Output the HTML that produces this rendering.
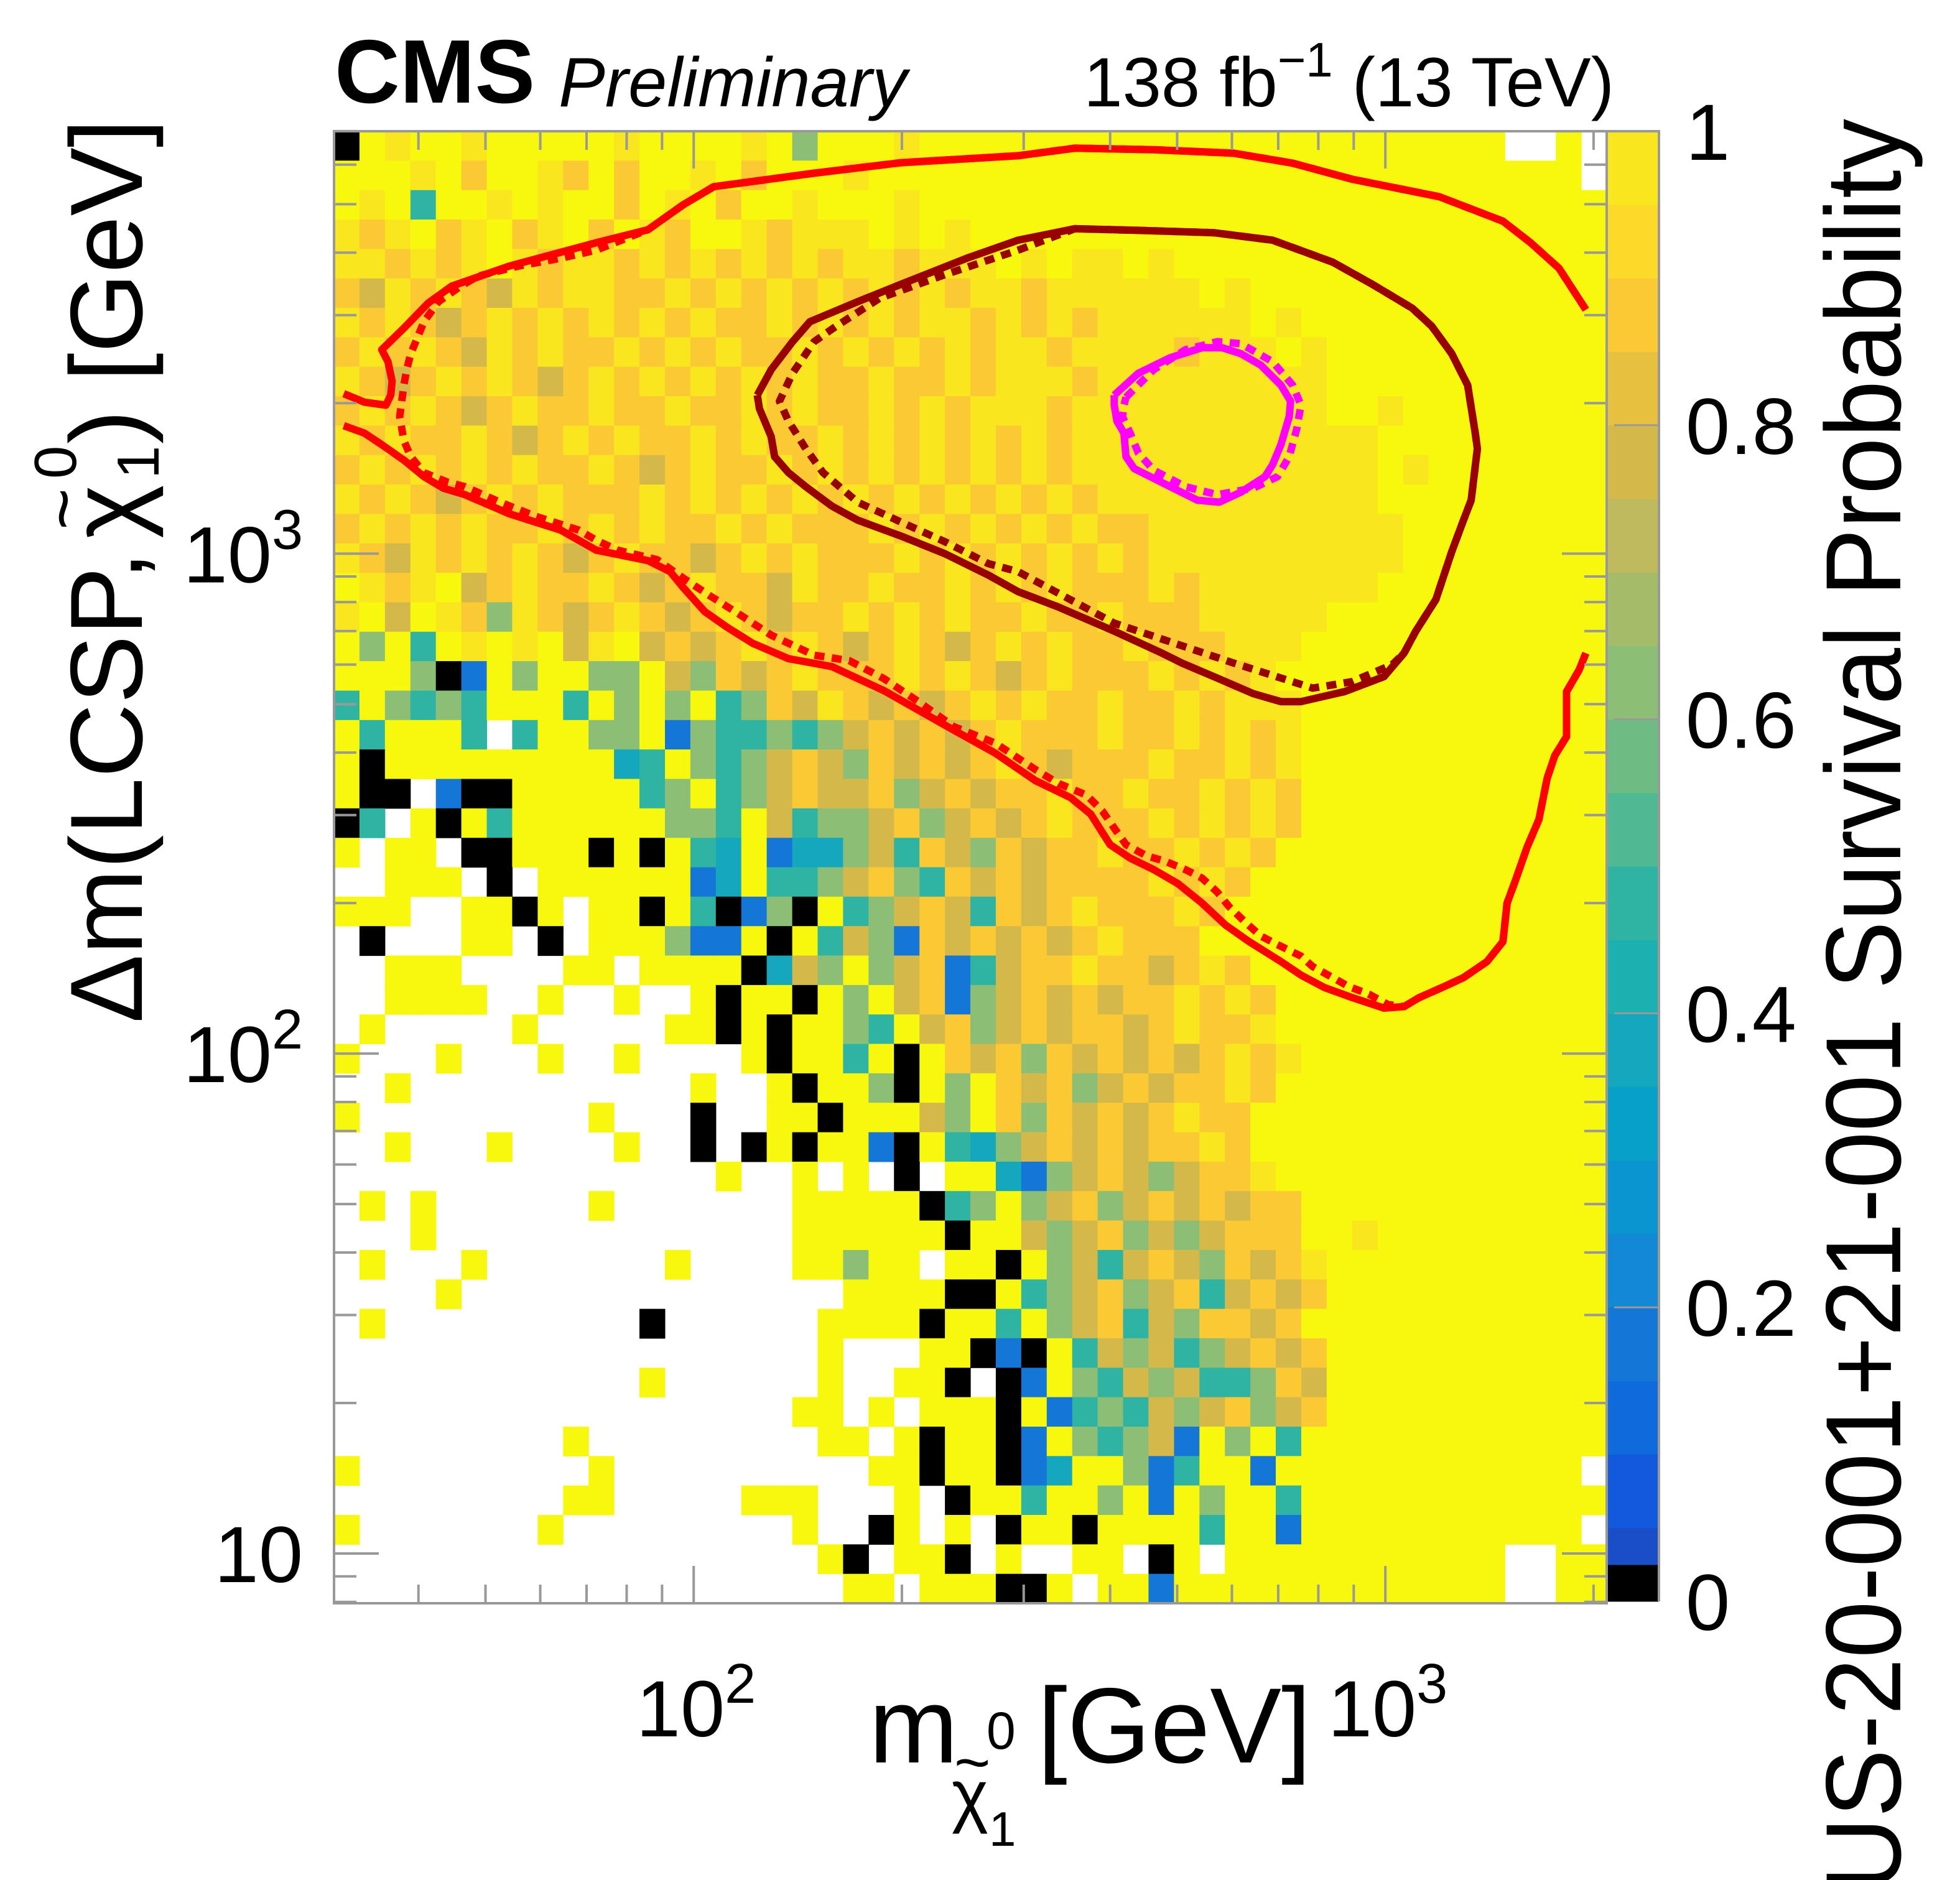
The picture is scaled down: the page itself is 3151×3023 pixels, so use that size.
<!DOCTYPE html>
<html><head><meta charset="utf-8"><title>CMS survival probability</title>
<style>html,body{margin:0;padding:0;background:#fff;}svg{display:block;}text{font-family:"Liberation Sans",sans-serif;}</style>
</head><body>
<svg id="chart" xmlns="http://www.w3.org/2000/svg" width="3151" height="3023" viewBox="0 0 3151 3023">
<g id="heat"></g>
<g id="contours"></g>
<g id="axes"></g>
<g id="cbar"></g>
<text x="538" y="165" font-size="145" font-weight="bold">CMS</text>
<text x="898" y="171" font-size="112" font-style="italic">Preliminary</text>
<text x="2595" y="171" font-size="112" text-anchor="end">138 fb<tspan dy="-48" font-size="78">−1</tspan><tspan dy="48"> (13 TeV)</tspan></text>
<g>
<text x="1397" y="2834" font-size="172">m</text>
<text x="1530" y="2925" font-size="112">χ</text>
<text x="1534" y="2868" font-size="100">~</text>
<text x="1586" y="2812" font-size="84">0</text>
<text x="1590" y="2968" font-size="78">1</text>
<text x="1668" y="2834" font-size="172">[GeV]</text>
</g>
<g transform="translate(228,1645) rotate(-90)">
<text x="0" y="0" font-size="165">Δm(LCSP,</text>
<text x="779" y="0" font-size="165">χ</text>
<text x="793" y="-88" font-size="115">~</text>
<text x="875" y="-106" font-size="96">0</text>
<text x="875" y="27" font-size="96">1</text>
<text x="931" y="0" font-size="165">) [GeV]</text>
</g>
<text transform="translate(3055,191) rotate(-90)" font-size="172" text-anchor="end" textLength="2960" lengthAdjust="spacingAndGlyphs">SUS-20-001+21-001 Survival Probability</text>
</svg>
<script>
// ---- axis ranges (log10 units) ----
const xLogMin = 1.480, xLogMax = 3.320;
const yLogMin = 0.9005, yLogMax = 3.845;
// ---- heatmap: 50 mass columns x 50 delta-m rows (top to bottom), codes map to probability ----
const codeValues = {'Y':1.0,'o':0.96,'O':0.89,'d':0.78,'g':0.62,'t':0.48,'c':0.36,'b':0.17,'k':0.0};
const heatRows = [
"kYoYYoYYYY"+"YoYYYYoYgY"+"YYoYYYYYYY"+"YYYYYYYYYY"+"YYYYYY..Y.",
"YYYoYOYYoO"+"YOYYoYOYYY"+"oYYYYYYYYY"+"YYYYYYYYYY"+"YYYYYYYYY.",
"YoYtYYoYoY"+"YOYoYOYYoY"+"YYoYYYYYYY"+"YYYYYYYYYY"+"YYYYYYYYYY",
"oOoYOoYOoY"+"OYoOYYoOoo"+"oYoYoYYYYY"+"YYYYYYYYYY"+"YYYYYYYYYY",
"ooOoOoYoOo"+"oOoOoOoOoO"+"ooOoooYoYo"+"oYoYYYYYYY"+"YYYYYYYYYY",
"OdoOoOdoOo"+"oOOoOoOoOo"+"OoOoOooOoo"+"ooooYoYYYY"+"YYYYYYYYYY",
"oOoOdOoOoO"+"oOoOoOOoOo"+"OoOooOoOoO"+"ooooooYoYY"+"YYYYYYYYYY",
"OoOoOdoOoO"+"OoOoOoOOoO"+"oOoOoOooOo"+"oooOoooYoY"+"YYYYYYYYYY",
"oOdOoOoOdO"+"oOoOoOoOoO"+"OoOOoOoooO"+"oooooooooY"+"YYYYYYYYYY",
"OoOoOdOoOO"+"oOOoOOoOoO"+"OoOoOoooOo"+"oooooooooY"+"YoYYYYYYYY",
"oOoOOoOdOo"+"OoOOoOoOOo"+"OoOoOoOoOo"+"oooooooooo"+"oYYYYYYYYY",
"OoOoOoOoOO"+"oOdOoOOoOo"+"OoOoOoOoOo"+"oooooooooo"+"oYoYYYYYYY",
"oOoOdOoOoO"+"OOoOoOoOoO"+"oOoOoOoOoO"+"oooooooooo"+"oYYYYYYYYY",
"OoOoOoOOoO"+"oOoOOoOoOO"+"OoOoOoOoOo"+"OOoooooooo"+"ooYYYYYYYY",
"oOdoOoOoOd"+"OoOOdOoOoO"+"OOoOoOoOoO"+"oOoooooooo"+"ooYYYYYYYY",
"YoOoYdOoOO"+"oOdOoOOdoO"+"OoOOoOoOoO"+"OOoOoooooo"+"oYYYYYYYYY",
"oYdYoOgoOd"+"OoOdOoOdOO"+"oOoOoOOoOO"+"oOOOoooooY"+"YYYYYYYYYY",
"YgYtYoYoYd"+"oYdOdOoOoO"+"dOoOdOoOoO"+"OoOOOoooYY"+"YYYYYYYYYY",
"YYYgkbYgYY"+"ggYdgOdOoO"+"OOoOoOdOoO"+"OOoOoOoYYY"+"YYYYYYYYYY",
"tYgtgtYYYt"+"YgYgYtgOdo"+"OdOdOoOoOO"+"oOOoOoooYY"+"YYYYYYYYYY",
"YtYYYt.tYY"+"ggYbgttgtg"+"dOdOdOoOOO"+"oOOoOoOoYY"+"YYYYYYYYYY",
"YkYYYYYYYY"+"YctYgtgdOd"+"gOdOdOoOdO"+"OOoOOoOoYY"+"YYYYYYYYYY",
"Ykk.bkkYYY"+"YYtgYtgdOd"+"dOgdOdOOoO"+"OoOOoOoOYY"+"YYYYYYYYYY",
"kt.YkYtYYY"+"YYYggtYdtg"+"gdOgdOdOoO"+"OOoOoOoOYY"+"YYYYYYYYYY",
"Y.YY.kkYYY"+"kYkYtcYbcc"+"gdtOdgOdOO"+"oOOoOoOYYY"+"YYYYYYYYYY",
"..YYY.k.YY"+"YYYYbcYttg"+"dOgtOdOdOO"+"OOoOoOYYYY"+"YYYYYYYYYY",
"YYY..YYkY."+"YYkYtkbgkY"+"tgdOdtOdOo"+"OOOoOYYYYY"+"YYYYYYYYYY",
".k...YY.k."+"YYYgbbYkYt"+"dgbOdOdOdO"+"oOOOYYYYYY"+"YYYYYYYYYY",
"..YYY....Y"+"Y.YYYYkcdg"+"YgdObtdOOo"+"OOdOoOYYYY"+"YYYYYYYYYY",
"..YYYY..Y."+".Y..YkYYkY"+"gYdObgdOdO"+"dOOoOoOYYY"+"YYYYYYYYYY",
".Y.....Y.."+"...YYkYkYY"+"gtYdOgdOdO"+"OdOoOOoYYY"+"YYYYYYYYYY",
"Y...Y...Y."+".Y....YkYY"+"tYkYOdOgOd"+"OdOdOoOoYY"+"YYYYYYYYYY",
"..Y......."+"....Y..YkY"+"YgkYgYOdOg"+"dOdOOoOYYY"+"YYYYYYYYYY",
"Y........."+"Y...k..YYk"+"YYYdgYOgOd"+"OdOoOOYYYY"+"YYYYYYYYYY",
"..Y...Y..."+".Y..k.kYkY"+"YbkYtcgdOd"+"OdOOoOYYYY"+"YYYYYYYYYY",
".........."+".....Y..Y."+"Y.k.YYcbgd"+"OdgdOOoYYY"+"YYYYYYYYYY",
".Y.Y......"+"Y.......YY"+"YYYktgYgdO"+"gdOdOdOOYY"+"YYYYYYYYYY",
"...Y......"+"........YY"+"YYYYkYYdgd"+"OgdgdOOOYY"+"oYYYYYYYYY",
".Y...Y...."+"...Y....YY"+"gYY.YYkYgd"+"tdOdgOdOoY"+"YYYYYYYYYY",
"....Y....."+".........."+"YYYYkkYtgd"+"OgdOtdOdOY"+"YYYYYYYYYY",
".Y........"+"..k......Y"+"YYYkYYtYgd"+"OtdgOOdOYY"+"YYYYYYYYYY",
".........."+".........Y"+"...YYkbkYt"+"dgdtgdOdOY"+"YYYYYYYYYY",
".........."+"..Y......Y"+"..YYk.kbYg"+"tdgdttgOdY"+"YYYYYYYYYY",
".........."+"........YY"+".Y.YYYkYbt"+"gtdgdOgdOY"+"YYYYYYYYYY",
".........Y"+".........Y"+"Y.YkYYkbYg"+"tgdbYgYtYY"+"YYYYYYYYYY",
"Y........."+"Y........."+".YYkYYkbcY"+"YgbtYYbYYY"+"YYYYYYYYY.",
".........Y"+"Y.....YYY."+"..Y.kYYtYY"+"gYbYgYYtYY"+"YYYYYYYYYY",
"Y.......Y."+"........Y."+".kY.Y.kYYk"+"YYYYtYYbYY"+"YYYYYYYYY.",
".........."+".........Y"+"k.YYk.Y..Y"+"Y.kY.YYYYY"+"YYYYYY..YY",
".........."+".........."+"YY.YYYkkY."+"YYbYYYYYYY"+"YYYYYY..YY"
];
// ---- contours: [log10 m(chi), log10 dm] ----
const obsOuterUpper = [[1.494,3.320],[1.524,3.303],[1.555,3.297],[1.562,3.317],[1.564,3.345],[1.558,3.384],[1.549,3.408],[1.581,3.451],[1.616,3.501],[1.650,3.535],[1.733,3.575],[1.859,3.622],[1.934,3.648],[1.985,3.698],[2.029,3.734],[2.174,3.761],[2.300,3.782],[2.469,3.796],[2.551,3.811],[2.665,3.808],[2.781,3.801],[2.866,3.781],[2.952,3.749],[3.078,3.714],[3.170,3.665],[3.210,3.622],[3.251,3.571],[3.290,3.488]];
const obsOuterLower = [[1.494,3.256],[1.524,3.241],[1.549,3.218],[1.581,3.187],[1.610,3.154],[1.638,3.131],[1.669,3.118],[1.733,3.080],[1.808,3.047],[1.859,3.007],[1.934,2.986],[1.966,2.964],[1.985,2.932],[2.016,2.884],[2.048,2.853],[2.085,2.821],[2.137,2.790],[2.200,2.774],[2.275,2.726],[2.376,2.647],[2.436,2.601],[2.494,2.546],[2.545,2.512],[2.574,2.479],[2.602,2.418],[2.631,2.391],[2.665,2.368],[2.700,2.340],[2.735,2.301],[2.769,2.257],[2.803,2.224],[2.849,2.184],[2.878,2.157],[2.912,2.132],[2.952,2.112],[2.998,2.091],[3.027,2.094],[3.049,2.112],[3.085,2.134],[3.113,2.152],[3.147,2.184],[3.170,2.224],[3.176,2.301],[3.188,2.346],[3.205,2.413],[3.222,2.468],[3.234,2.551],[3.245,2.596],[3.262,2.634],[3.262,2.724],[3.280,2.767],[3.290,2.801]];
const expOuter = [[3.290,3.488],[3.251,3.571],[3.210,3.622],[3.170,3.665],[3.078,3.714],[2.952,3.749],[2.866,3.781],[2.781,3.801],[2.665,3.808],[2.551,3.811],[2.469,3.796],[2.300,3.782],[2.174,3.761],[2.029,3.734],[1.985,3.698],[1.934,3.648],[1.859,3.607],[1.808,3.591],[1.746,3.575],[1.688,3.555],[1.663,3.535],[1.631,3.504],[1.610,3.464],[1.591,3.400],[1.585,3.368],[1.581,3.337],[1.575,3.274],[1.581,3.226],[1.591,3.194],[1.610,3.162],[1.644,3.143],[1.669,3.134],[1.720,3.103],[1.771,3.075],[1.834,3.047],[1.859,3.027],[1.890,3.007],[1.947,2.988],[1.985,2.951],[2.022,2.917],[2.060,2.884],[2.112,2.837],[2.174,2.797],[2.225,2.786],[2.275,2.750],[2.326,2.703],[2.376,2.654],[2.436,2.621],[2.494,2.568],[2.528,2.540],[2.568,2.517],[2.591,2.485],[2.608,2.451],[2.625,2.418],[2.654,2.396],[2.683,2.384],[2.711,2.368],[2.735,2.351],[2.757,2.323],[2.774,2.294],[2.798,2.262],[2.820,2.235],[2.844,2.218],[2.878,2.195],[2.895,2.174],[2.924,2.152],[2.947,2.134],[2.976,2.119],[3.004,2.098],[3.027,2.094],[3.049,2.112],[3.085,2.134],[3.113,2.152],[3.147,2.184],[3.170,2.224],[3.176,2.301],[3.188,2.346],[3.205,2.413],[3.222,2.468],[3.234,2.551],[3.245,2.596],[3.262,2.634],[3.262,2.724],[3.280,2.767],[3.290,2.801]];
const obsMid = [[2.092,3.317],[2.112,3.368],[2.143,3.424],[2.168,3.464],[2.237,3.504],[2.300,3.539],[2.395,3.591],[2.469,3.627],[2.551,3.650],[2.637,3.647],[2.752,3.642],[2.837,3.627],[2.924,3.583],[2.981,3.539],[3.039,3.491],[3.067,3.455],[3.096,3.400],[3.119,3.337],[3.130,3.241],[3.133,3.210],[3.124,3.107],[3.113,3.067],[3.096,3.004],[3.073,2.908],[3.044,2.845],[3.027,2.801],[2.998,2.754],[2.941,2.724],[2.878,2.704],[2.849,2.704],[2.809,2.720],[2.757,2.751],[2.706,2.781],[2.677,2.801],[2.608,2.845],[2.526,2.894],[2.469,2.924],[2.426,2.957],[2.363,3.000],[2.300,3.035],[2.237,3.067],[2.200,3.095],[2.162,3.134],[2.137,3.162],[2.117,3.194],[2.112,3.234],[2.095,3.290],[2.092,3.317]];
const expMid = [[2.469,3.607],[2.551,3.650],[2.637,3.647],[2.752,3.642],[2.837,3.627],[2.924,3.583],[2.981,3.539],[3.039,3.491],[3.067,3.455],[3.096,3.400],[3.119,3.337],[3.130,3.241],[3.133,3.210],[3.124,3.107],[3.113,3.067],[3.096,3.004],[3.073,2.908],[3.044,2.845],[3.027,2.801],[3.010,2.778],[2.952,2.744],[2.895,2.731],[2.781,2.781],[2.608,2.861],[2.469,2.964],[2.426,2.980],[2.363,3.024],[2.300,3.063],[2.237,3.103],[2.187,3.162],[2.162,3.210],[2.137,3.265],[2.124,3.305],[2.143,3.361],[2.174,3.424],[2.206,3.455],[2.269,3.511],[2.363,3.558],[2.469,3.607]];
const obsInner = [[2.608,3.317],[2.643,3.361],[2.689,3.392],[2.735,3.412],[2.764,3.412],[2.791,3.400],[2.820,3.377],[2.849,3.337],[2.863,3.305],[2.861,3.274],[2.849,3.218],[2.837,3.178],[2.826,3.154],[2.791,3.123],[2.760,3.103],[2.728,3.107],[2.689,3.134],[2.637,3.170],[2.625,3.194],[2.622,3.241],[2.612,3.265],[2.608,3.297],[2.608,3.317]];
const expInner = [[2.625,3.313],[2.665,3.368],[2.711,3.408],[2.757,3.424],[2.791,3.420],[2.837,3.384],[2.866,3.337],[2.878,3.297],[2.872,3.250],[2.861,3.194],[2.844,3.154],[2.809,3.131],[2.757,3.118],[2.711,3.134],[2.665,3.167],[2.643,3.201],[2.631,3.241],[2.620,3.274],[2.622,3.297],[2.625,3.313]];
// ---- ticks ----
const xTickValues = [40,50,60,70,80,90,100,200,300,400,500,600,700,800,900,1000,2000];
const xMajorValues = [100,1000];
const yTickValues = [8,9,10,20,30,40,50,60,70,80,90,100,200,300,400,500,600,700,800,900,1000,2000,3000,4000,5000,6000,7000];
const yMajorValues = [10,100,1000];
const yTickLabels = [["10",""],["10","2"],["10","3"]];
const xTickLabels = [["10","2"],["10","3"]];
const zTickValues = [0,0.2,0.4,0.6,0.8,1];
const zTickLabels = ["0","0.2","0.4","0.6","0.8","1"];
const paletteColors = ["#000000","#1259DD","#0F6ADC","#1477D8","#1388D5","#0B95D0","#06A0C8","#14A7BD","#1DB0B0","#2FB4A3","#4FB993","#6EBC83","#8DBE76","#A4BC6A","#C0BA5E","#D4B94A","#E8C03F","#FAC934","#FDD928","#FAE61E"];

const NS = "http://www.w3.org/2000/svg";
const PL = 537, PR = 2583, PT = 211, PB = 2578;
function xs(lg){ return PL + (lg - xLogMin) / (xLogMax - xLogMin) * (PR - PL); }
function ys(lg){ return PB - (lg - yLogMin) / (yLogMax - yLogMin) * (PB - PT); }
const ZT = 211, ZB = 2575;
function zs(v){ return ZB - v * (ZB - ZT); }
function colorOf(v){
  if (v >= 0.999) return "#F8F80E";
  if (v < 0.025) return "#000000";
  if (v < 0.05) return "#1A4EC8";
  return paletteColors[Math.min(19, Math.floor(v * 20))];
}
function mk(tag, attrs, parent){ const e = document.createElementNS(NS, tag); for (const k in attrs) e.setAttribute(k, attrs[k]); parent.appendChild(e); return e; }

// heatmap
const heat = document.getElementById('heat');
const nCols = 50, nRows = heatRows.length;
for (let r = 0; r < nRows; r++) {
  const row = heatRows[r];
  const yTop = yLogMax - r * (yLogMax - yLogMin) / nRows, yBot = yLogMax - (r + 1) * (yLogMax - yLogMin) / nRows;
  for (let c = 0; c < nCols; c++) {
    const ch = c < row.length ? row[c] : 'Y';
    if (!(ch in codeValues)) continue;
    const x0 = xLogMin + c * (xLogMax - xLogMin) / nCols, x1 = xLogMin + (c + 1) * (xLogMax - xLogMin) / nCols;
    const rc = mk('rect', {x: xs(x0).toFixed(1), y: ys(yTop).toFixed(1), width: (xs(x1) - xs(x0) + 0.6).toFixed(1), height: (ys(yBot) - ys(yTop) + 0.6).toFixed(1), fill: colorOf(codeValues[ch])}, heat);
    
    
  }
}

// contours
const cg = document.getElementById('contours');
function pathOf(pts){ return pts.map((p, i) => (i ? 'L' : 'M') + xs(p[0]).toFixed(1) + ' ' + ys(p[1]).toFixed(1)).join(' '); }
function line(pts, color, dash, name){
  const p = mk('path', {d: pathOf(pts), fill: 'none', stroke: color, 'stroke-width': 12, 'stroke-linejoin': 'round'}, cg);
  if (dash) p.setAttribute('stroke-dasharray', '16 12');
  
  
}
line(expOuter, '#FF0000', true, 'expected-outer-contour');
line(obsOuterUpper, '#FF0000', false, 'observed-outer-contour-upper');
line(obsOuterLower, '#FF0000', false, 'observed-outer-contour-lower');
line(expMid, '#990000', true, 'expected-middle-contour');
line(obsMid, '#990000', false, 'observed-middle-contour');
line(expInner, '#FF00FF', true, 'expected-inner-contour');
line(obsInner, '#FF00FF', false, 'observed-inner-contour');

// axes
const ag = document.getElementById('axes');
const fr = mk('rect', {x: PL, y: PT, width: PR - PL, height: PB - PT, fill: 'none', stroke: '#999', 'stroke-width': 4}, ag);


xTickValues.forEach(v => {
  const X = xs(Math.log10(v)); const maj = xMajorValues.includes(v); const L = maj ? 60 : 30;
  const t1 = mk('line', {x1: X, x2: X, y1: PB, y2: PB - L, stroke: '#999', 'stroke-width': 4}, ag);
  
  
  const t2 = mk('line', {x1: X, x2: X, y1: PT, y2: PT + L, stroke: '#999', 'stroke-width': 4}, ag);
  
  
});
yTickValues.forEach(v => {
  const Y = ys(Math.log10(v)); const maj = yMajorValues.includes(v); const L = maj ? 72 : 36;
  const t1 = mk('line', {x1: PL, x2: PL + L, y1: Y, y2: Y, stroke: '#999', 'stroke-width': 4}, ag);
  
  
  const t2 = mk('line', {x1: PR, x2: PR - L, y1: Y, y2: Y, stroke: '#999', 'stroke-width': 4}, ag);
  
  
});
yMajorValues.forEach((v, i) => {
  const Y = ys(Math.log10(v));
  const t = mk('text', {x: 487, y: (Y + 46).toFixed(1), 'font-size': 128, 'text-anchor': 'end'}, ag);
  
  
  t.textContent = yTickLabels[i][0];
  if (yTickLabels[i][1]) { const s = mk('tspan', {dy: -54, 'font-size': 90}, t); s.textContent = yTickLabels[i][1]; }
});
xMajorValues.forEach((v, i) => {
  const X = xs(Math.log10(v));
  const t = mk('text', {x: (X + 100).toFixed(1), y: 2792, 'font-size': 128, 'text-anchor': 'end'}, ag);
  
  
  t.textContent = xTickLabels[i][0];
  const s = mk('tspan', {dy: -54, 'font-size': 90}, t); s.textContent = xTickLabels[i][1];
});

// color bar
const zg = document.getElementById('cbar');
const CL = 2585, CR = 2667;
for (let i = 0; i < 20; i++) {
  const v0 = i / 20, v1 = (i + 1) / 20;
  if (i === 0) {
    const a = mk('rect', {x: CL, y: zs(0.025), width: CR - CL, height: zs(0) - zs(0.025) + 0.5, fill: '#000000'}, zg);
    
    
    const b = mk('rect', {x: CL, y: zs(0.05), width: CR - CL, height: zs(0.025) - zs(0.05) + 0.5, fill: '#1A4EC8'}, zg);
    
    
    continue;
  }
  const r = mk('rect', {x: CL, y: zs(v1), width: CR - CL, height: zs(v0) - zs(v1) + 0.5, fill: paletteColors[i]}, zg);
  
  
}
const cf = mk('path', {d: `M${CL} ${ZT} L${CR} ${ZT} L${CR} ${ZB}`, fill: 'none', stroke: '#999', 'stroke-width': 4}, zg);


zTickValues.forEach((v, i) => {
  const Y = zs(v);
  if (v > 0 && v < 1) {
    const tk = mk('line', {x1: CR, x2: CR - 72, y1: Y, y2: Y, stroke: '#999', 'stroke-width': 3}, zg);
    
    
  }
  const t = mk('text', {x: 2710, y: (Y + 46).toFixed(1), 'font-size': 128}, zg);
  
  
  t.textContent = zTickLabels[i];
});
</script>
</body></html>
